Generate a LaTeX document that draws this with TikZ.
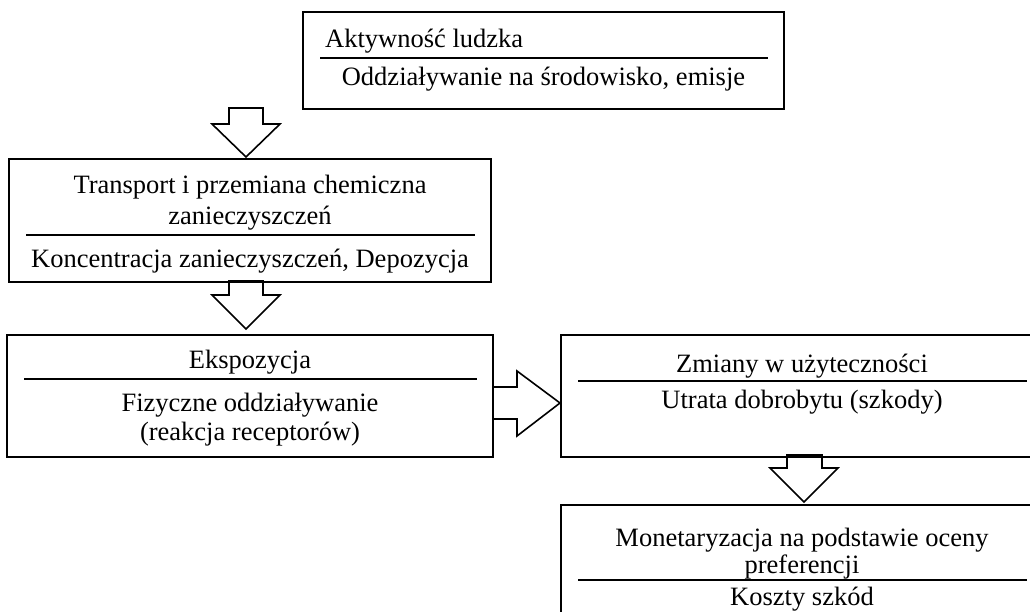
\documentclass[tikz,border=0pt]{standalone}
\usepackage{fontspec}
\setmainfont{Liberation Serif}
\begin{document}
\begin{tikzpicture}[x=1pt,y=-1pt,
  box/.style={draw, line width=1.8pt, rectangle, inner sep=0pt, outer sep=0pt},
  txt/.style={anchor=base, inner sep=0pt, font=\fontsize{26.5}{30.5}\selectfont},
  rulel/.style={line width=2pt},
  barrow/.style={draw, line width=1.6pt, line join=miter}]
\useasboundingbox (0,0) rectangle (1030,612);
\clip (0,0) rectangle (1030,612);
% boxes
\node[box, minimum width=481pt, minimum height=97pt] (b1) at (543.5,60.5) {};
\node[box, minimum width=482pt, minimum height=123pt] (b2) at (250,220.5) {};
\node[box, minimum width=486pt, minimum height=122pt] (b3) at (250,396) {};
\node[box, minimum width=482pt, minimum height=122pt] (b4) at (802,396) {};
\node[box, minimum width=482pt, minimum height=130pt] (b5) at (802,570) {};
% box 1
\node[txt, anchor=base west] (t1a) at (325,48) {Aktywność ludzka};
\draw[rulel] (320,58) -- (768,58);
\node[txt] (t1b) at (543.5,86) {Oddziaływanie na środowisko, emisje};
% box 2
\node[txt] (t2a) at (250,194) {Transport i przemiana chemiczna};
\node[txt] (t2b) at (250,225) {zanieczyszczeń};
\draw[rulel] (26,235) -- (475,235);
\node[txt] (t2c) at (250,267) {Koncentracja zanieczyszczeń, Depozycja};
% box 3
\node[txt] (t3a) at (250,368) {Ekspozycja};
\draw[rulel] (24,379) -- (477,379);
\node[txt] (t3b) at (250,411) {Fizyczne oddziaływanie};
\node[txt] (t3c) at (250,440) {(reakcja receptorów)};
% box 4
\node[txt] (t4a) at (802,372) {Zmiany w użyteczności};
\draw[rulel] (578,381) -- (1027,381);
\node[txt] (t4b) at (802,408) {Utrata dobrobytu (szkody)};
% box 5
\node[txt] (t5a) at (802,546) {Monetaryzacja na podstawie oceny};
\node[txt] (t5b) at (802,573) {preferencji};
\draw[rulel] (578,580) -- (1027,580);
\node[txt] (t5c) at (802,605) {Koszty szkód};
% block arrows
\draw[barrow] (229,108) -- (263,108) -- (263,124) -- (280,124) -- (246,157) -- (212,124) -- (229,124) -- cycle;
\draw[barrow] (229,281) -- (263,281) -- (263,295) -- (280,295) -- (246,329) -- (212,295) -- (229,295) -- cycle;
\draw[barrow] (493,387) -- (517,387) -- (517,371) -- (560,403) -- (517,436) -- (517,419) -- (493,419);
\draw[barrow] (787,455) -- (822,455) -- (822,468) -- (838,468) -- (804,502) -- (770,468) -- (787,468) -- cycle;
\end{tikzpicture}
\end{document}
